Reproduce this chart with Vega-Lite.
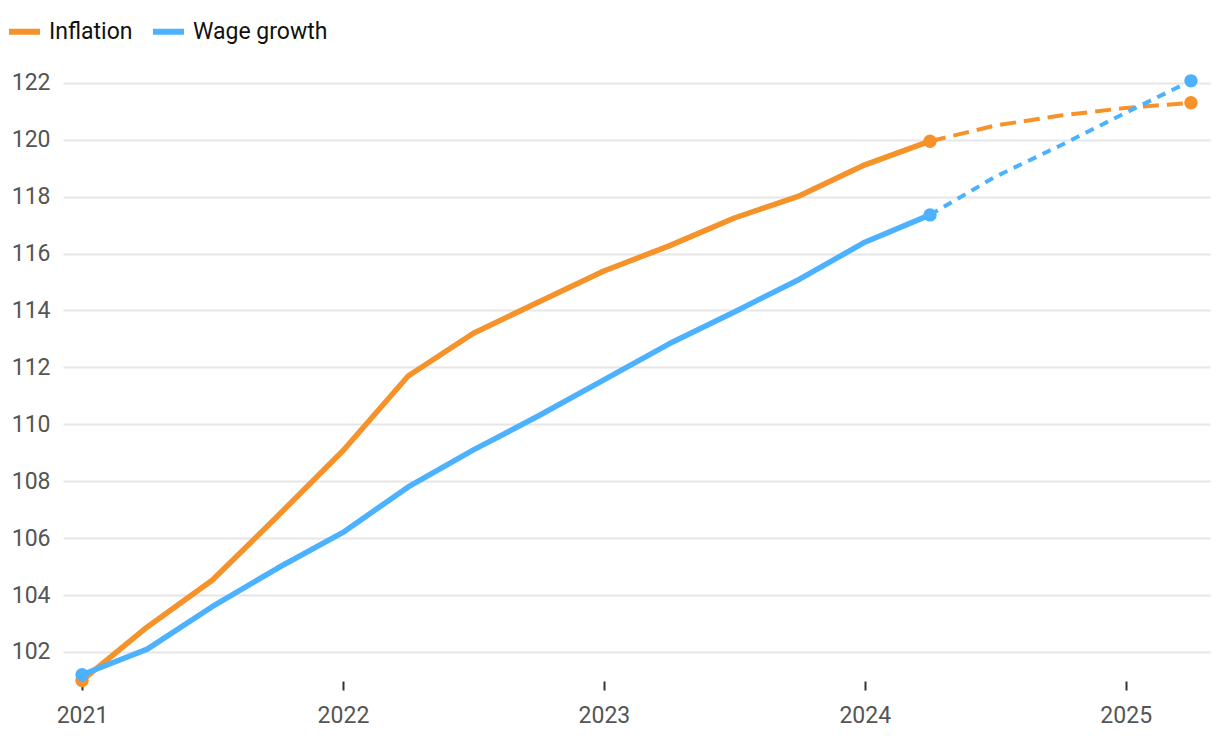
{
  "$schema": "https://vega.github.io/schema/vega-lite/v6.json",
  "width": 1147,
  "height": 601,
  "autosize": "none",
  "padding": {"left": 63, "top": 80, "right": 10, "bottom": 61},
  "background": "white",
  "config": {
    "font": "Roboto",
    "view": {"stroke": null},
    "axis": {"labelFont": "Roboto", "labelFontSize": 23, "labelColor": "#555555", "title": null}
  },
  "data": {"values": [
    {"t": 2021.0, "series": "Inflation", "kind": "actual", "value": 101.0},
    {"t": 2021.25, "series": "Inflation", "kind": "actual", "value": 102.88},
    {"t": 2021.5, "series": "Inflation", "kind": "actual", "value": 104.53},
    {"t": 2021.75, "series": "Inflation", "kind": "actual", "value": 106.78},
    {"t": 2022.0, "series": "Inflation", "kind": "actual", "value": 109.07},
    {"t": 2022.25, "series": "Inflation", "kind": "actual", "value": 111.7},
    {"t": 2022.5, "series": "Inflation", "kind": "actual", "value": 113.2},
    {"t": 2022.75, "series": "Inflation", "kind": "actual", "value": 114.3},
    {"t": 2023.0, "series": "Inflation", "kind": "actual", "value": 115.39},
    {"t": 2023.25, "series": "Inflation", "kind": "actual", "value": 116.27},
    {"t": 2023.5, "series": "Inflation", "kind": "actual", "value": 117.25},
    {"t": 2023.75, "series": "Inflation", "kind": "actual", "value": 118.03},
    {"t": 2024.0, "series": "Inflation", "kind": "actual", "value": 119.12},
    {"t": 2024.25, "series": "Inflation", "kind": "actual", "value": 119.95},
    {"t": 2024.25, "series": "Inflation", "kind": "forecast", "value": 119.95},
    {"t": 2024.5, "series": "Inflation", "kind": "forecast", "value": 120.5},
    {"t": 2024.75, "series": "Inflation", "kind": "forecast", "value": 120.85},
    {"t": 2025.0, "series": "Inflation", "kind": "forecast", "value": 121.12},
    {"t": 2025.25, "series": "Inflation", "kind": "forecast", "value": 121.3},
    {"t": 2021.0, "series": "Wage growth", "kind": "actual", "value": 101.2},
    {"t": 2021.25, "series": "Wage growth", "kind": "actual", "value": 102.1},
    {"t": 2021.5, "series": "Wage growth", "kind": "actual", "value": 103.6},
    {"t": 2021.75, "series": "Wage growth", "kind": "actual", "value": 104.95},
    {"t": 2022.0, "series": "Wage growth", "kind": "actual", "value": 106.2},
    {"t": 2022.25, "series": "Wage growth", "kind": "actual", "value": 107.8},
    {"t": 2022.5, "series": "Wage growth", "kind": "actual", "value": 109.1},
    {"t": 2022.75, "series": "Wage growth", "kind": "actual", "value": 110.3},
    {"t": 2023.0, "series": "Wage growth", "kind": "actual", "value": 111.56},
    {"t": 2023.25, "series": "Wage growth", "kind": "actual", "value": 112.83},
    {"t": 2023.5, "series": "Wage growth", "kind": "actual", "value": 113.95},
    {"t": 2023.75, "series": "Wage growth", "kind": "actual", "value": 115.1},
    {"t": 2024.0, "series": "Wage growth", "kind": "actual", "value": 116.4},
    {"t": 2024.25, "series": "Wage growth", "kind": "actual", "value": 117.36},
    {"t": 2024.25, "series": "Wage growth", "kind": "forecast", "value": 117.36},
    {"t": 2024.5, "series": "Wage growth", "kind": "forecast", "value": 118.7},
    {"t": 2024.75, "series": "Wage growth", "kind": "forecast", "value": 119.8},
    {"t": 2025.0, "series": "Wage growth", "kind": "forecast", "value": 120.95},
    {"t": 2025.25, "series": "Wage growth", "kind": "forecast", "value": 122.07}
  ]},
  "encoding": {
    "x": {
      "field": "t", "type": "quantitative",
      "scale": {"domain": [2020.927, 2025.323], "nice": false, "zero": false},
      "axis": {"values": [2021, 2022, 2023, 2024, 2025], "format": "d", "grid": false, "domain": false,
               "ticks": true, "tickSize": 9, "tickWidth": 2, "tickColor": "#333333", "labelPadding": 14}
    },
    "y": {
      "field": "value", "type": "quantitative",
      "scale": {"domain": [100.98, 122.1], "nice": false, "zero": false},
      "axis": {"values": [102, 104, 106, 108, 110, 112, 114, 116, 118, 120, 122], "domain": false, "ticks": false,
               "grid": true, "gridColor": "#e6e6e6", "gridWidth": 2, "labelPadding": 13}
    },
    "color": {
      "field": "series", "type": "nominal",
      "scale": {"domain": ["Inflation", "Wage growth"], "range": ["#F5922A", "#4CB2FF"]},
      "legend": {
        "title": null, "orient": "none", "direction": "horizontal",
        "legendX": -57, "legendY": -67,
        "symbolType": "stroke", "symbolStrokeWidth": 6, "symbolSize": 961,
        "labelFont": "Roboto", "labelFontSize": 23, "labelColor": "#111111",
        "columnPadding": 8, "labelOffset": 6
      }
    }
  },
  "layer": [
    {
      "transform": [{"filter": "datum.kind === 'actual'"}],
      "mark": {"type": "line", "strokeWidth": 5.5, "strokeCap": "round", "strokeJoin": "round"}
    },
    {
      "transform": [{"filter": "datum.kind === 'forecast' && datum.series === 'Inflation'"}],
      "mark": {"type": "line", "strokeWidth": 4, "strokeDash": [16, 8]}
    },
    {
      "transform": [{"filter": "datum.kind === 'forecast' && datum.series === 'Wage growth'"}],
      "mark": {"type": "line", "strokeWidth": 4, "strokeDash": [9, 7]}
    },
    {
      "transform": [{"filter": "(datum.t === 2021 && datum.kind === 'actual') || (datum.t === 2024.25 && datum.kind === 'actual') || datum.t === 2025.25"}],
      "mark": {"type": "circle", "size": 180, "opacity": 1}
    }
  ]
}
